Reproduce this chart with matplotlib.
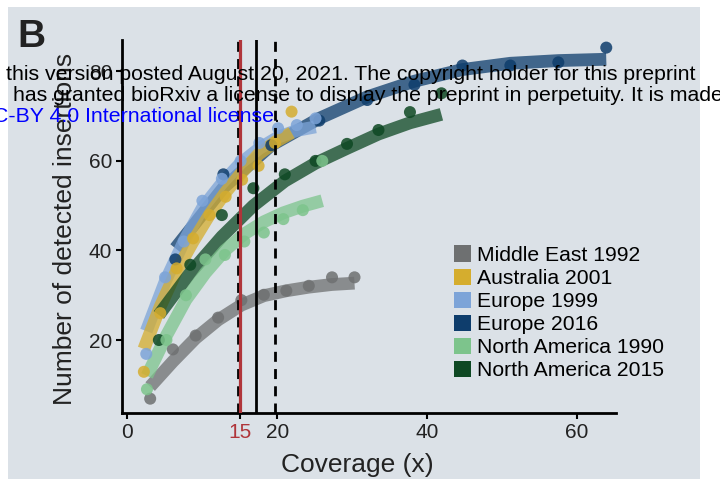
import matplotlib
matplotlib.use("Agg")
import matplotlib.pyplot as plt
from matplotlib.patches import Rectangle, Patch

plt.rcParams['font.family'] = ['Liberation Sans', 'DejaVu Sans']

# ---- data -------------------------------------------------------------
labels = ["Middle East 1992", "Australia 2001", "Europe 1999",
          "Europe 2016", "North America 1990", "North America 2015"]
colors = ["#6e7071", "#d5ad2e", "#7da4d8", "#0e3d6c", "#7dc48c", "#0e4823"]

# coverage of each subsample
cov_me92 = [3.03, 6.06, 9.1, 12.1, 15.2, 18.2, 21.2, 24.2, 27.3, 30.3]
cov_au01 = [2.19, 4.38, 6.57, 8.76, 10.95, 13.1, 15.3, 17.5, 19.7, 21.9]
cov_eu99 = [2.51, 5.02, 7.53, 10.0, 12.6, 15.1, 17.6, 20.1, 22.6, 25.1]
cov_eu16 = [6.39, 12.8, 19.2, 25.6, 32.0, 38.3, 44.7, 51.1, 57.5, 63.9]
cov_na90 = [2.6, 5.2, 7.8, 10.4, 13.0, 15.6, 18.2, 20.8, 23.4, 26.0]
cov_na15 = [4.19, 8.38, 12.6, 16.8, 21.0, 25.1, 29.3, 33.5, 37.7, 41.9]

# detected insertions (observed)
obs_me92 = [6.9, 17.9, 21.0, 25.0, 28.9, 30.1, 31.0, 32.1, 34.0, 34.0]
obs_au01 = [12.9, 26.0, 36.0, 42.7, 47.9, 52.0, 55.8, 58.9, 64.0, 71.0]
obs_eu99 = [16.9, 34.0, 42.0, 51.1, 56.0, 60.0, 64.0, 67.3, 68.0, 69.5]
obs_eu16 = [38.0, 57.0, 63.5, 69.0, 73.6, 77.0, 81.3, 81.3, 82.0, 85.3]
obs_na90 = [9.0, 20.0, 30.0, 38.0, 39.0, 42.0, 44.0, 47.0, 49.0, 60.0]
obs_na15 = [20.0, 36.8, 47.9, 53.9, 57.0, 60.0, 63.8, 66.9, 70.9, 75.1]

# fitted saturation curves
fit_me92 = [9.6, 15.2, 20.4, 24.5, 27.8, 29.9, 31.0, 31.8, 32.4, 32.7]
fit_au01 = [18.0, 27.5, 35.5, 42.0, 48.0, 53.0, 57.5, 61.5, 64.2, 66.3]
fit_eu99 = [22.0, 33.0, 42.0, 49.5, 55.0, 59.5, 62.8, 65.3, 66.8, 67.6]
fit_eu16 = [40.5, 54.0, 63.5, 69.5, 74.3, 77.8, 80.4, 81.8, 82.4, 82.7]
fit_na90 = [12.0, 21.0, 29.0, 35.0, 40.0, 43.7, 46.4, 48.4, 49.9, 51.1]
fit_na15 = [25.6, 35.0, 43.1, 50.0, 55.5, 59.5, 62.8, 66.0, 68.5, 70.4]

recommended = 15
cov_mean, cov_lo, cov_hi = 17.2, 14.7, 19.7

xticks = [0, 15, 20, 40, 60]
yticks = [20, 40, 60, 80]

# ---- figure -----------------------------------------------------------
W, H = 720, 479
fig = plt.figure(figsize=(W / 100, H / 100), dpi=100)
fig.patch.set_facecolor("white")
fig.patches.append(Rectangle((8 / W, 0), 692 / W, 472 / H, transform=fig.transFigure,
                             facecolor="#dbe1e7", edgecolor="none", zorder=-10))

ax = fig.add_axes([122 / W, 1 - 413 / H, 494 / W, 373 / H])
ax.set_facecolor("none")
ax.set_zorder(1)

series = [
    (cov_me92, obs_me92, fit_me92),
    (cov_au01, obs_au01, fit_au01),
    (cov_eu99, obs_eu99, fit_eu99),
    (cov_eu16, obs_eu16, fit_eu16),
    (cov_na90, obs_na90, fit_na90),
    (cov_na15, obs_na15, fit_na15),
]
draw_order = [0, 3, 2, 1, 5, 4]
for i in draw_order:
    cx, oy, fy = series[i]
    ax.plot(cx, fy, color=colors[i], lw=9.2, alpha=0.75, solid_capstyle="butt",
            solid_joinstyle="round", zorder=2)
for i in draw_order:
    cx, oy, fy = series[i]
    ax.scatter(cx, oy, s=75, color=colors[i], alpha=0.85, edgecolors="none", zorder=3)

ax.axvline(cov_lo, color="black", lw=2, linestyle=(0, (3.6, 2.6)), zorder=4)
ax.axvline(cov_hi, color="black", lw=2, linestyle=(0, (3.6, 2.6)), zorder=4)
ax.axvline(cov_mean, color="black", lw=2, zorder=4)
ax.axvline(recommended, color="#b0353a", lw=2.3, zorder=5)

ax.set_xlim(-0.73, 65.2)
ax.set_ylim(3.7, 87.0)
for s in ("top", "right"):
    ax.spines[s].set_visible(False)
for s in ("left", "bottom"):
    ax.spines[s].set_linewidth(2)
    ax.spines[s].set_color("black")

ax.set_xticks(xticks)
ax.set_xticklabels([str(v) for v in xticks])
ax.set_yticks(yticks)
ax.tick_params(axis="both", length=4, width=1.5, color="black",
               labelsize=15, labelcolor="#222222", pad=3)
for lab in ax.get_xticklabels():
    if lab.get_text() == str(recommended):
        lab.set_color("#b0353a")

handles = [Patch(facecolor=c, edgecolor="none") for c in colors]
ax.legend(handles, labels, loc="upper left", bbox_to_anchor=(454 / W, 1 - 245.5 / H),
          bbox_transform=fig.transFigure, frameon=False, fontsize=15.2,
          handlelength=0.8, handleheight=0.8, handletextpad=0.27,
          labelspacing=0.17, borderpad=0, borderaxespad=0)

fig.text(65 / W, 1 - 229 / H, "Number of detected insertions", rotation=90,
         ha="center", va="center", fontsize=19, color="#222222", zorder=5)
fig.text(357.5 / W, 1 - 472 / H, "Coverage (x)", ha="center", va="baseline",
         fontsize=19, color="#222222", zorder=5)
fig.text(17 / W, 1 - 47 / H, "B", fontsize=28, fontweight="bold",
         va="baseline", color="#222222", zorder=5)

# bioRxiv footer text overlaid at the top
fs = 14
t1 = fig.text(6 / W, 1 - 80 / H,
              "this version posted August 20, 2021. The copyright holder for this preprint",
              fontsize=fs, va="baseline", zorder=10)
fig.canvas.draw()
w1 = t1.get_window_extent().width
fs = fs * 693 / w1
t1.set_fontsize(fs)
fig.text(13 / W, 1 - 101 / H,
         "has granted bioRxiv a license to display the preprint in perpetuity. It is made",
         fontsize=fs, va="baseline", zorder=10)
fig.text(274 / W, 1 - 122 / H, "C-BY 4.0 International license", fontsize=fs,
         va="baseline", ha="right", color="#0000ff", zorder=10)
fig.text(274 / W, 1 - 122 / H, ".", fontsize=fs, va="baseline", ha="left", zorder=10)

fig.savefig("out.png", dpi=100)
